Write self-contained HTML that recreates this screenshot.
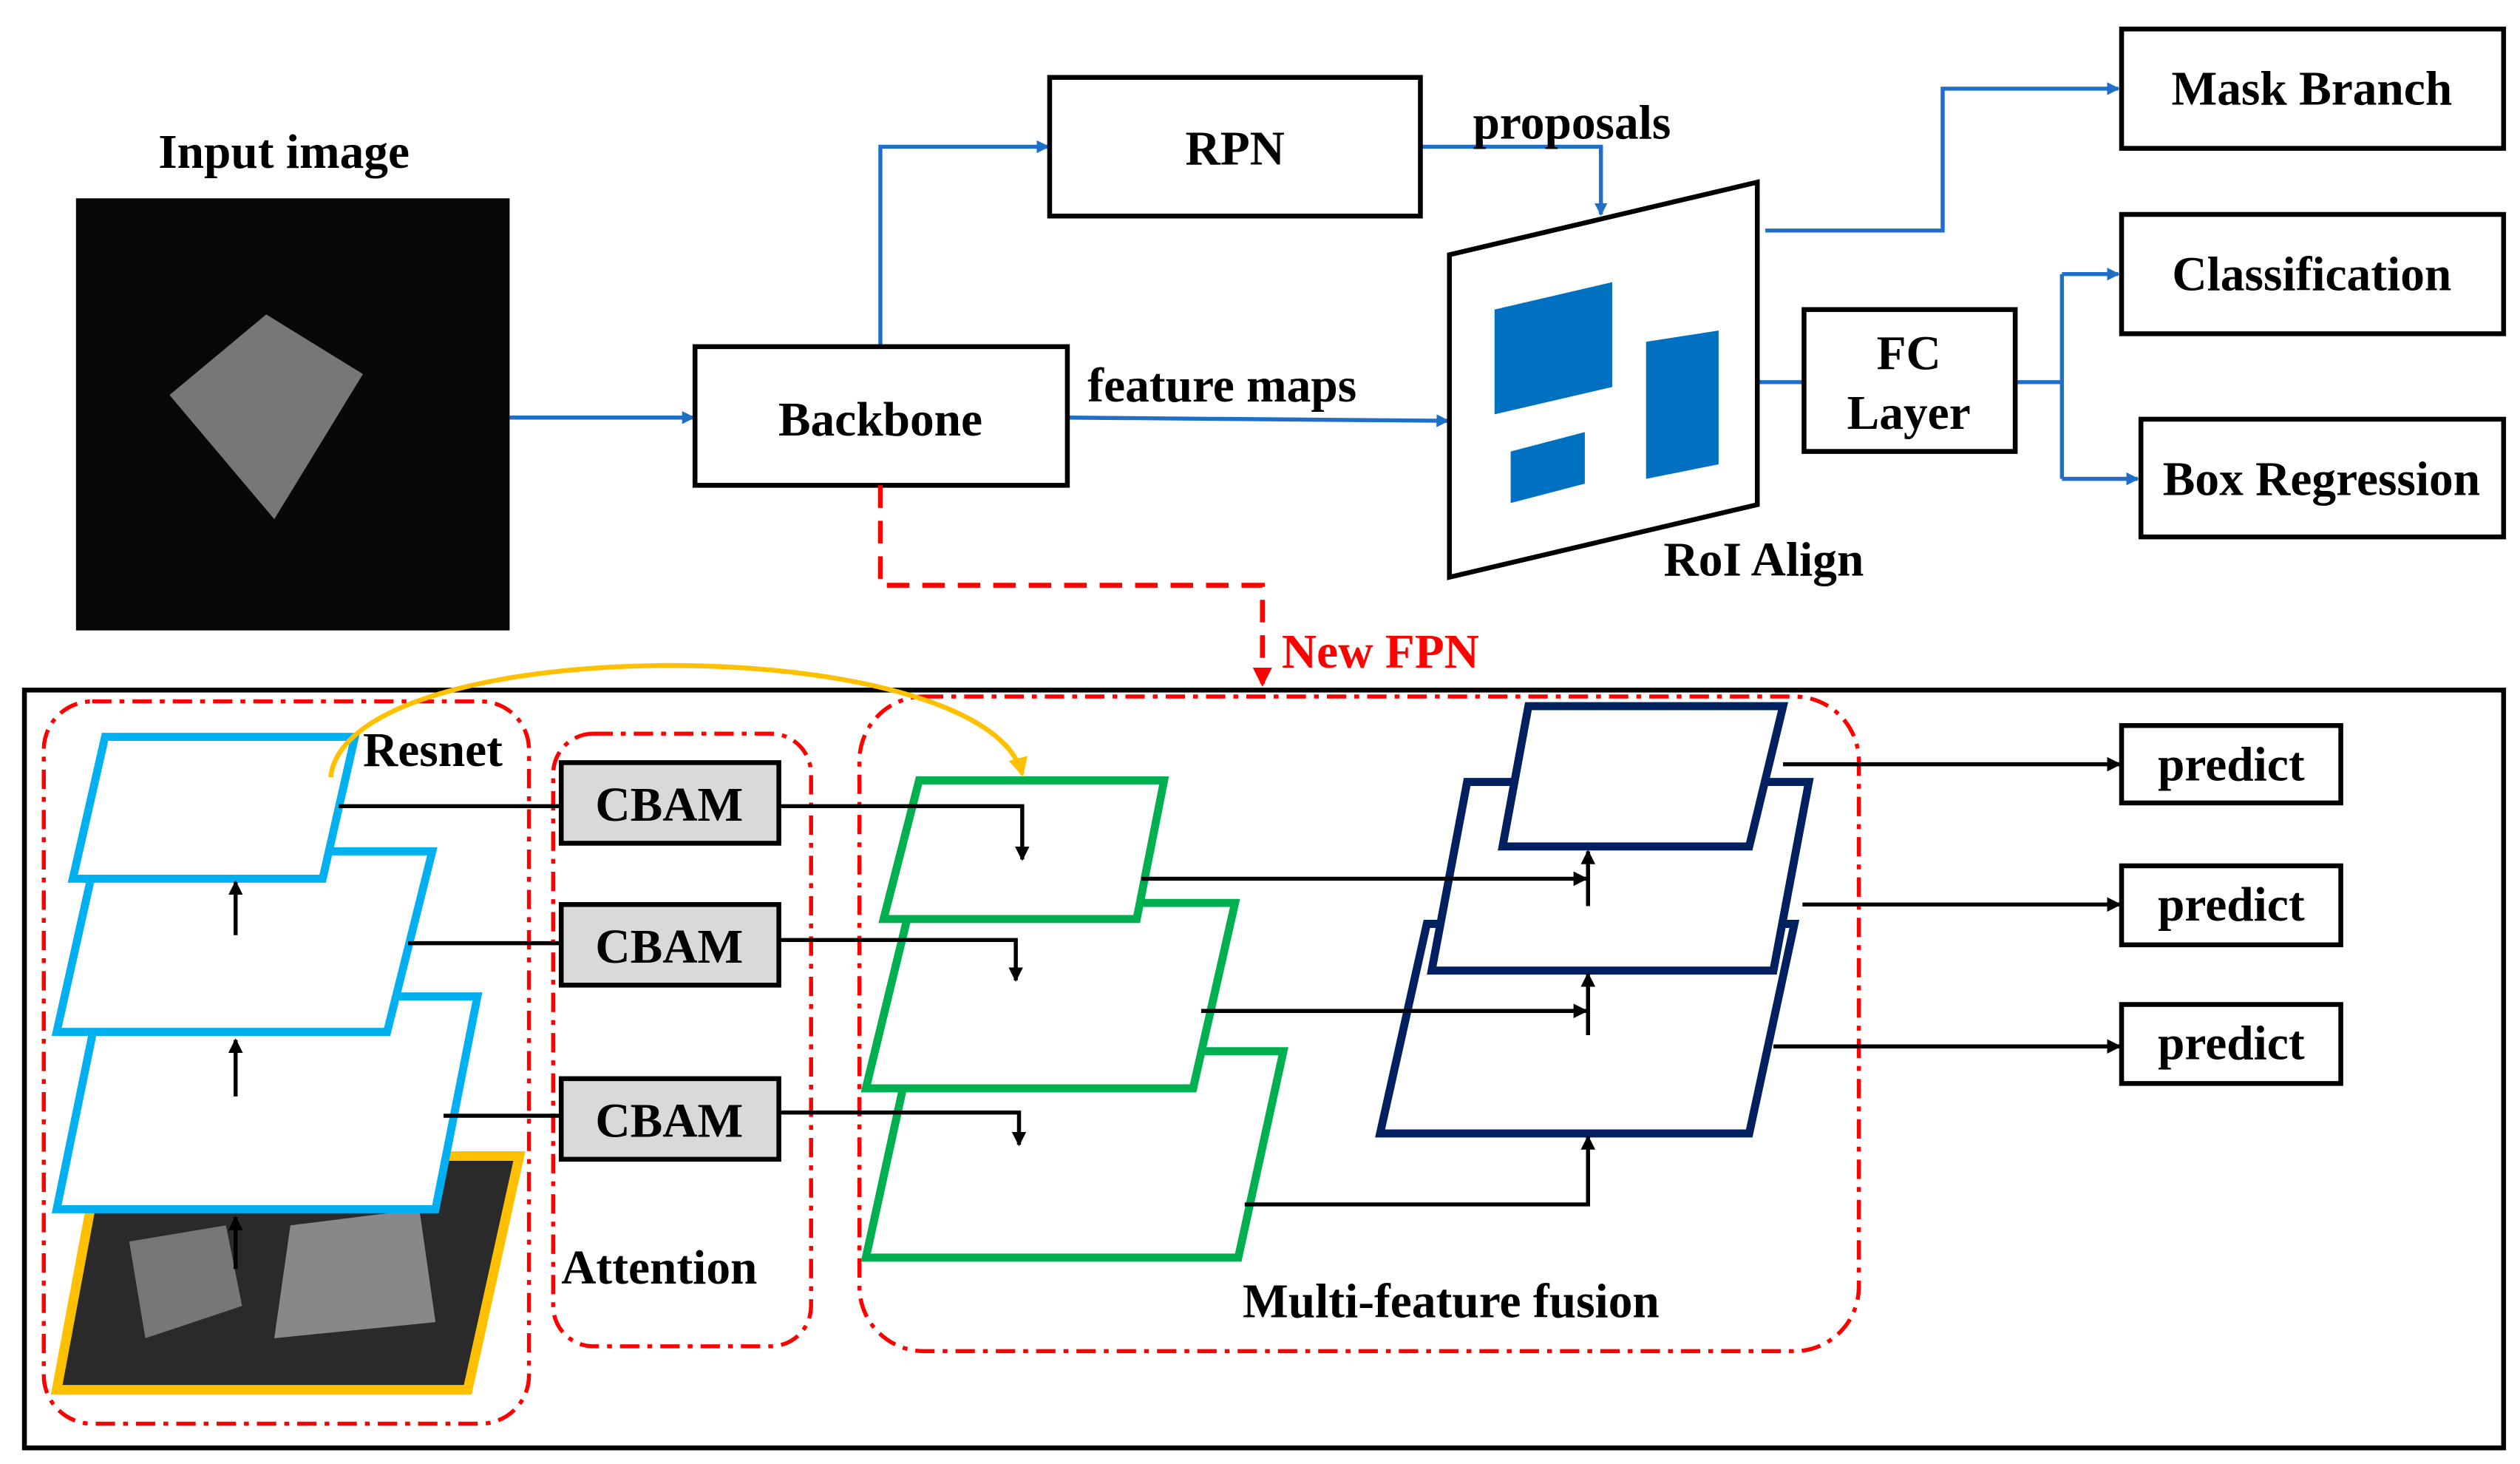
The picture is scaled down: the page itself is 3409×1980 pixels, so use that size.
<!DOCTYPE html>
<html><head><meta charset="utf-8"><style>
html,body{margin:0;padding:0;background:#fff}
svg{display:block}
text{font-family:"Liberation Serif",serif;font-weight:bold;font-size:30px;fill:#000}
</style></head><body>
<svg width="3409" height="1980" viewBox="0 0 1563 908" xmlns="http://www.w3.org/2000/svg">
<defs>
<marker id="ab" markerWidth="8" markerHeight="8" refX="7" refY="4" orient="auto" markerUnits="userSpaceOnUse"><path d="M0,0 L8,4 L0,8 z" fill="#1f6fc9"/></marker>
<marker id="ak" markerWidth="9" markerHeight="9" refX="8" refY="4.5" orient="auto" markerUnits="userSpaceOnUse"><path d="M0,0 L9,4.5 L0,9 z" fill="#000"/></marker>
<marker id="ar" markerWidth="12" markerHeight="12" refX="10" refY="6" orient="auto" markerUnits="userSpaceOnUse"><path d="M0,0 L12,6 L0,12 z" fill="#f00"/></marker>
<marker id="ao" markerWidth="12" markerHeight="12" refX="10" refY="6" orient="auto" markerUnits="userSpaceOnUse"><path d="M0,0 L12,6 L0,12 z" fill="#ffc000"/></marker>
</defs>
<text x="176" y="104" text-anchor="middle">Input image</text>
<rect x="47" y="123" width="269" height="268" fill="#080808"/>
<polygon points="105,245 165,195 225,232 170,322" fill="#777"/>
<g stroke="#1f6fc9" stroke-width="2.5" fill="none">
<line x1="316" y1="259" x2="430" y2="259" marker-end="url(#ab)"/>
<polyline points="546,215 546,91 650,91" marker-end="url(#ab)"/>
<polyline points="881,91 993,91 993,133" marker-end="url(#ab)"/>
<line x1="662" y1="259" x2="898" y2="261" marker-end="url(#ab)"/>
<polyline points="1095,143 1205,143 1205,55 1314,55" marker-end="url(#ab)"/>
<line x1="1090" y1="237" x2="1119" y2="237"/>
<polyline points="1250,237 1279,237"/>
<line x1="1279" y1="170" x2="1279" y2="297"/>
<line x1="1279" y1="170" x2="1314" y2="170" marker-end="url(#ab)"/>
<line x1="1279" y1="297" x2="1326" y2="297" marker-end="url(#ab)"/>
</g>
<g fill="#fff" stroke="#000" stroke-width="3">
<rect x="431" y="215" width="231" height="86"/>
<rect x="651" y="48" width="230" height="86"/>
<rect x="1119" y="192" width="131" height="88"/>
<rect x="1316" y="18" width="237" height="74"/>
<rect x="1316" y="133" width="237" height="74"/>
<rect x="1328" y="260" width="225" height="73"/>
<polygon points="899,158 1090,113 1090,313 899,358"/>
</g>
<g fill="#0070c0">
<polygon points="927,192 1000,175 1000,240 927,257"/>
<polygon points="1021,212 1066,205 1066,288 1021,297"/>
<polygon points="937,280 983,268 983,300 937,312"/>
</g>
<text x="546" y="270" text-anchor="middle">Backbone</text>
<text x="766" y="102" text-anchor="middle">RPN</text>
<text x="975" y="86" text-anchor="middle">proposals</text>
<text x="758" y="249" text-anchor="middle">feature maps</text>
<text x="1094" y="357" text-anchor="middle">RoI Align</text>
<text x="1184" y="229" text-anchor="middle">FC</text>
<text x="1184" y="266" text-anchor="middle">Layer</text>
<text x="1434" y="65" text-anchor="middle">Mask Branch</text>
<text x="1434" y="180" text-anchor="middle">Classification</text>
<text x="1440" y="307" text-anchor="middle">Box Regression</text>
<polyline points="546,301 546,363 783,363 783,424" fill="none" stroke="#f00" stroke-width="3" stroke-dasharray="14,8" marker-end="url(#ar)"/>
<text x="795" y="414" style="fill:#f00">New FPN</text>
<rect x="15" y="428" width="1538" height="470" fill="none" stroke="#000" stroke-width="3"/>
<g fill="none" stroke="#f00" stroke-width="2.5" stroke-dasharray="12,5,3,5">
<rect x="27" y="435" width="301" height="448" rx="30"/>
<rect x="343" y="455" width="160" height="380" rx="25"/>
<rect x="533" y="432" width="620" height="406" rx="40"/>
</g>
<text x="225" y="475">Resnet</text>
<text x="348" y="796">Attention</text>
<text x="900" y="817" text-anchor="middle">Multi-feature fusion</text>
<polygon points="62,717 322,717 290,862 35,862" fill="#2a2a2a" stroke="#ffc000" stroke-width="6"/>
<polygon points="80,770 140,760 150,810 90,830" fill="#777"/>
<polygon points="180,760 260,750 270,820 170,830" fill="#888"/>
<g fill="#fff" stroke="#00b0f0" stroke-width="5">
<polygon points="62,618 296,618 270,750 35,750"/>
<polygon points="60,528 268,528 240,640 35,640"/>
<polygon points="65,457 220,457 200,545 45,545"/>
</g>
<g stroke="#000" stroke-width="2.5" fill="none">
<line x1="146" y1="580" x2="146" y2="547" marker-end="url(#ak)"/>
<line x1="146" y1="680" x2="146" y2="645" marker-end="url(#ak)"/>
<line x1="146" y1="787" x2="146" y2="755" marker-end="url(#ak)"/>
<line x1="210" y1="500" x2="348" y2="500"/>
<line x1="253" y1="585" x2="348" y2="585"/>
<line x1="275" y1="692" x2="348" y2="692"/>
</g>
<g fill="#d9d9d9" stroke="#000" stroke-width="3">
<rect x="348" y="473" width="135" height="50"/>
<rect x="348" y="561" width="135" height="50"/>
<rect x="348" y="669" width="135" height="50"/>
</g>
<text x="415" y="509" text-anchor="middle">CBAM</text>
<text x="415" y="597" text-anchor="middle">CBAM</text>
<text x="415" y="705" text-anchor="middle">CBAM</text>
<g fill="#fff" stroke="#00b050" stroke-width="5">
<polygon points="565,652 796,652 768,780 537,780"/>
<polygon points="565,560 766,560 740,675 537,675"/>
<polygon points="570,484 722,484 705,570 548,570"/>
</g>
<g stroke="#000" stroke-width="2.5" fill="none">
<polyline points="483,500 634,500 634,533" marker-end="url(#ak)"/>
<polyline points="483,583 630,583 630,608" marker-end="url(#ak)"/>
<polyline points="483,690 632,690 632,710" marker-end="url(#ak)"/>
</g>
<g fill="#fff" stroke="#002060" stroke-width="5">
<polygon points="885,573 1113,573 1085,703 856,703"/>
<polygon points="910,485 1122,485 1100,602 888,602"/>
<polygon points="948,438 1106,438 1085,525 932,525"/>
</g>
<g stroke="#000" stroke-width="2.5" fill="none">
<line x1="708" y1="545" x2="984" y2="545" marker-end="url(#ak)"/>
<line x1="745" y1="627" x2="984" y2="627" marker-end="url(#ak)"/>
<polyline points="772,747 985,747 985,705" marker-end="url(#ak)"/>
<line x1="985" y1="562" x2="985" y2="528" marker-end="url(#ak)"/>
<line x1="985" y1="642" x2="985" y2="604" marker-end="url(#ak)"/>
<line x1="1106" y1="474" x2="1315" y2="474" marker-end="url(#ak)"/>
<line x1="1118" y1="561" x2="1315" y2="561" marker-end="url(#ak)"/>
<line x1="1100" y1="649" x2="1315" y2="649" marker-end="url(#ak)"/>
</g>
<g fill="#fff" stroke="#000" stroke-width="3">
<rect x="1316" y="450" width="136" height="48"/>
<rect x="1316" y="537" width="136" height="49"/>
<rect x="1316" y="623" width="136" height="49"/>
</g>
<text x="1384" y="484" text-anchor="middle">predict</text>
<text x="1384" y="571" text-anchor="middle">predict</text>
<text x="1384" y="657" text-anchor="middle">predict</text>
<path d="M205,482 C215,390 610,390 634,480" fill="none" stroke="#ffc000" stroke-width="3" marker-end="url(#ao)"/>
</svg>
</body></html>
